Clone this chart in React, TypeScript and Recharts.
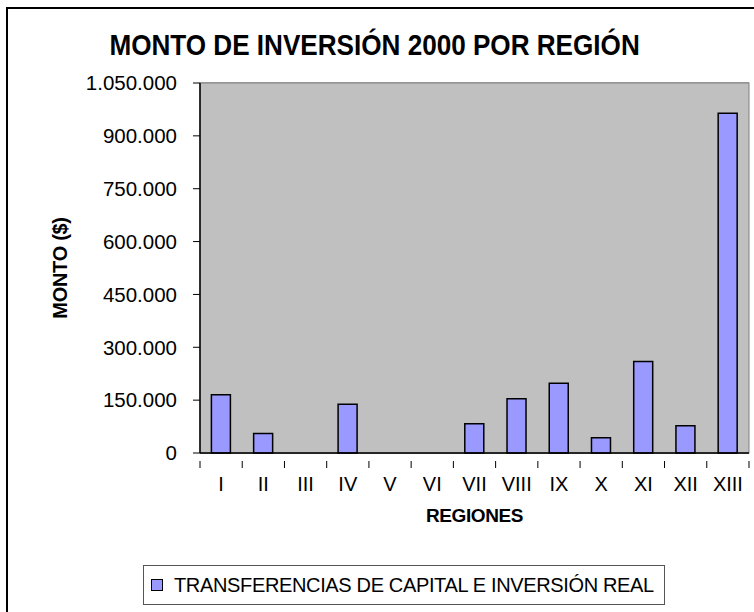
import React from 'react';
import { BarChart, Bar, XAxis, YAxis, CartesianGrid } from 'recharts';

const regiones = ['I', 'II', 'III', 'IV', 'V', 'VI', 'VII', 'VIII', 'IX', 'X', 'XI', 'XII', 'XIII'];
const montos = [165000, 55000, 0, 138000, 0, 0, 83000, 154000, 198000, 43000, 260000, 77000, 964000];
const yTicks = [0, 150000, 300000, 450000, 600000, 750000, 900000, 1050000];
const serieNombre = 'TRANSFERENCIAS DE CAPITAL E INVERSIÓN REAL';

const data = regiones.map((r, i) => ({ region: r, monto: montos[i] }));

const PLOT_LEFT = 200;
const PLOT_RIGHT = 749;
const PLOT_TOP = 83;
const PLOT_BOTTOM = 453;
const BAND = (PLOT_RIGHT - PLOT_LEFT) / regiones.length;
const FONT = 'Arial, "Liberation Sans", sans-serif';

// miles con punto, como en el original
const fmt = (v: number) => String(v).replace(/\B(?=(\d{3})+(?!\d))/g, '.');

const RegionTick = (props: any) => {
  const { x, y, payload, index } = props;
  const last = index === regiones.length - 1;
  return (
    <g>
      <line x1={x - BAND / 2} y1={y} x2={x - BAND / 2} y2={y + 7} stroke="#000" />
      {last && <line x1={x + BAND / 2} y1={y} x2={x + BAND / 2} y2={y + 7} stroke="#000" />}
      <text x={x} y={y + 30} textAnchor="middle" fontSize={20} fontFamily={FONT} fill="#000">
        {payload.value}
      </text>
    </g>
  );
};

const App: React.FC = () => {
  return (
    <div style={{ position: 'absolute', left: 0, top: 0, width: 754, height: 612, overflow: 'hidden', background: '#fff', fontFamily: FONT }}>
      <div style={{ position: 'absolute', left: 6, top: 7, width: 780, height: 640, border: '2px solid #000' }} />
      <div style={{ position: 'absolute', left: 0, top: 26, width: 749, textAlign: 'center', fontSize: 30, fontWeight: 'bold', color: '#000', lineHeight: '38px', transform: 'scaleX(0.87)', transformOrigin: '375px 0', whiteSpace: 'nowrap' }}>
        MONTO DE INVERSIÓN 2000 POR REGIÓN
      </div>
      <div style={{ position: 'absolute', left: 0, top: 0 }}>
        <BarChart
          width={754}
          height={612}
          data={data}
          margin={{ top: PLOT_TOP, right: 754 - PLOT_RIGHT, left: 0, bottom: 612 - PLOT_BOTTOM - 80 }}
          barCategoryGap="27%"
        >
          <rect x={PLOT_LEFT} y={PLOT_TOP} width={PLOT_RIGHT - PLOT_LEFT} height={PLOT_BOTTOM - PLOT_TOP} fill="#c0c0c0" stroke="#808080" />
          <CartesianGrid vertical={false} stroke="#555" fill="#c0c0c0" />
          <XAxis
            dataKey="region"
            height={80}
            axisLine={{ stroke: '#000', strokeWidth: 1.5 }}
            tickLine={false}
            interval={0}
            tick={<RegionTick />}
            label={{
              content: (p: any) => {
                const vb = p.viewBox;
                return (
                  <text x={vb.x + vb.width / 2} y={vb.y + 69} textAnchor="middle" fontSize={19} fontWeight="bold" fontFamily={FONT} fill="#000" letterSpacing={-0.4}>
                    REGIONES
                  </text>
                );
              },
            }}
          />
          <YAxis
            width={PLOT_LEFT}
            domain={[0, 1050000]}
            ticks={yTicks}
            interval={0}
            tickFormatter={fmt}
            tickSize={7}
            tickMargin={16}
            axisLine={{ stroke: '#000', strokeWidth: 1.5 }}
            tickLine={{ stroke: '#000' }}
            tick={{ fill: '#000', fontSize: 20.5, fontFamily: FONT }}
            label={{
              content: (p: any) => {
                const vb = p.viewBox;
                const cy = vb.y + vb.height / 2;
                return (
                  <text x={60} y={cy} transform={`rotate(-90 60 ${cy})`} textAnchor="middle" dominantBaseline="central" fontSize={20} fontWeight="bold" fontFamily={FONT} fill="#000" letterSpacing={-0.3}>
                    MONTO ($)
                  </text>
                );
              },
            }}
          />
          <Bar dataKey="monto" name={serieNombre} fill="#9999ff" stroke="#000" strokeWidth={1.5} isAnimationActive={false} />
        </BarChart>
      </div>
      <div style={{ position: 'absolute', left: 143, top: 565, width: 522, height: 40, boxSizing: 'border-box', border: '1px solid #555', background: '#fff', display: 'flex', alignItems: 'center' }}>
        <span style={{ display: 'inline-block', width: 10, height: 10, background: '#9999ff', border: '1.5px solid #000', marginLeft: 7, marginRight: 11 }} />
        <span style={{ fontSize: 20, color: '#000', whiteSpace: 'nowrap', letterSpacing: -0.35 }}>{serieNombre}</span>
      </div>
    </div>
  );
};

export default App;
